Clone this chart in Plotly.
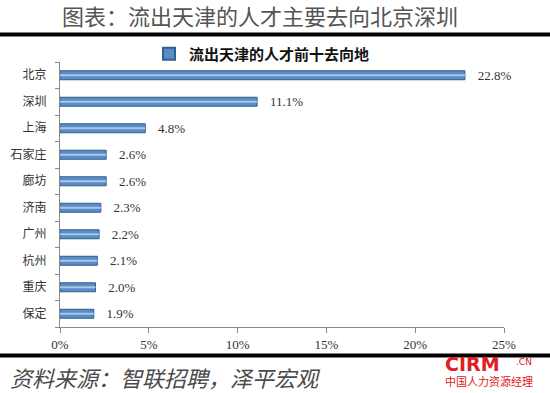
import plotly.graph_objects as go

cities = ["北京", "深圳", "上海", "石家庄", "廊坊", "济南", "广州", "杭州", "重庆", "保定"]
shares = [22.8, 11.1, 4.8, 2.6, 2.6, 2.3, 2.2, 2.1, 2.0, 1.9]
labels = [f"{v:.1f}%" for v in shares]
x_ticks = [0, 5, 10, 15, 20, 25]
x_tick_text = [f"{t}%" for t in x_ticks]

cjk = "Noto Sans CJK SC"
serif = "Liberation Serif"

fig = go.Figure()
fig.add_trace(go.Bar(
    y=cities, x=shares, orientation="h",
    name="<b>流出天津的人才前十去向地</b>",
    marker=dict(color="#5a8cc6", line=dict(color="#2f5f96", width=1)),
    width=0.34,
    text=labels, texttemplate="   %{text}", textposition="outside", constraintext="none",
    textfont=dict(family=serif, size=13, color="#333333"),
    cliponaxis=False,
))
# lighter highlight stripe to mimic gradient fill
fig.add_trace(go.Bar(
    y=cities, x=shares, orientation="h",
    marker=dict(color="#a9c6e8", line=dict(width=0)),
    width=0.08, showlegend=False, hoverinfo="skip",
))

L, R, T, B = 60, 46, 62, 66
W, H = 550, 393
H_plot = H - T - B
W_plot = W - L - R

def py(ypix):
    return (H - B - ypix) / H_plot

def px(xpix):
    return (xpix - L) / W_plot

fig.update_layout(
    width=W, height=H,
    margin=dict(l=L, r=R, t=T, b=B),
    paper_bgcolor="white", plot_bgcolor="white",
    barmode="overlay",
    showlegend=True,
    legend=dict(orientation="h", x=px(262), xanchor="center", y=py(54), yanchor="middle",
                font=dict(family=cjk, size=15, color="#111111"),
                bgcolor="rgba(0,0,0,0)",
                itemsizing="constant", itemwidth=30),
    xaxis=dict(range=[0, 25], tickvals=x_ticks, ticktext=x_tick_text,
               showgrid=False, zeroline=False, showline=True, linecolor="#888888",
               ticks="outside", ticklen=5, tickcolor="#888888",
               tickfont=dict(family=serif, size=13, color="#333333")),
    yaxis=dict(categoryorder="array", categoryarray=cities[::-1],
               showgrid=False, showline=True, linecolor="#888888",
               ticks="outside", ticklen=4, tickcolor="#888888", tickson="boundaries",
               ticklabelstandoff=10,
               tickfont=dict(family=cjk, size=12, color="#333333")),
    font=dict(family=cjk),
)

fig.add_annotation(text="图表：流出天津的人才主要去向北京深圳", xref="paper", yref="paper",
                   x=px(260), y=py(15), xanchor="center", yanchor="middle", showarrow=False,
                   font=dict(family=cjk, size=22, color="#555555"))

fig.add_shape(type="line", xref="paper", yref="paper", x0=px(0), x1=px(550),
              y0=py(34.5), y1=py(34.5), line=dict(color="black", width=4))
fig.add_shape(type="line", xref="paper", yref="paper", x0=px(0), x1=px(550),
              y0=py(355.5), y1=py(355.5), line=dict(color="black", width=4))

fig.add_annotation(text="<i>资料来源：智联招聘，泽平宏观</i>", xref="paper", yref="paper",
                   x=px(8), y=py(377), xanchor="left", yanchor="middle", showarrow=False,
                   font=dict(family=cjk, size=22, color="#4a4a4a"))
fig.add_annotation(text="<b>CIRM</b>", xref="paper", yref="paper",
                   x=px(443), y=py(364), xanchor="left", yanchor="middle", showarrow=False,
                   font=dict(family="DejaVu Sans", size=19, color="#e02020"))
fig.add_annotation(text=".CN", xref="paper", yref="paper",
                   x=px(514), y=py(362), xanchor="left", yanchor="middle", showarrow=False,
                   font=dict(family="DejaVu Sans", size=9, color="#e02020"))
fig.add_annotation(text="中国人力资源经理", xref="paper", yref="paper",
                   x=px(443), y=py(381), xanchor="left", yanchor="middle", showarrow=False,
                   font=dict(family=cjk, size=11, color="#e02020"))

fig.write_html("out.html", config={"displayModeBar": False},
               post_script="document.body.style.margin='0';document.body.style.overflow='hidden';")
